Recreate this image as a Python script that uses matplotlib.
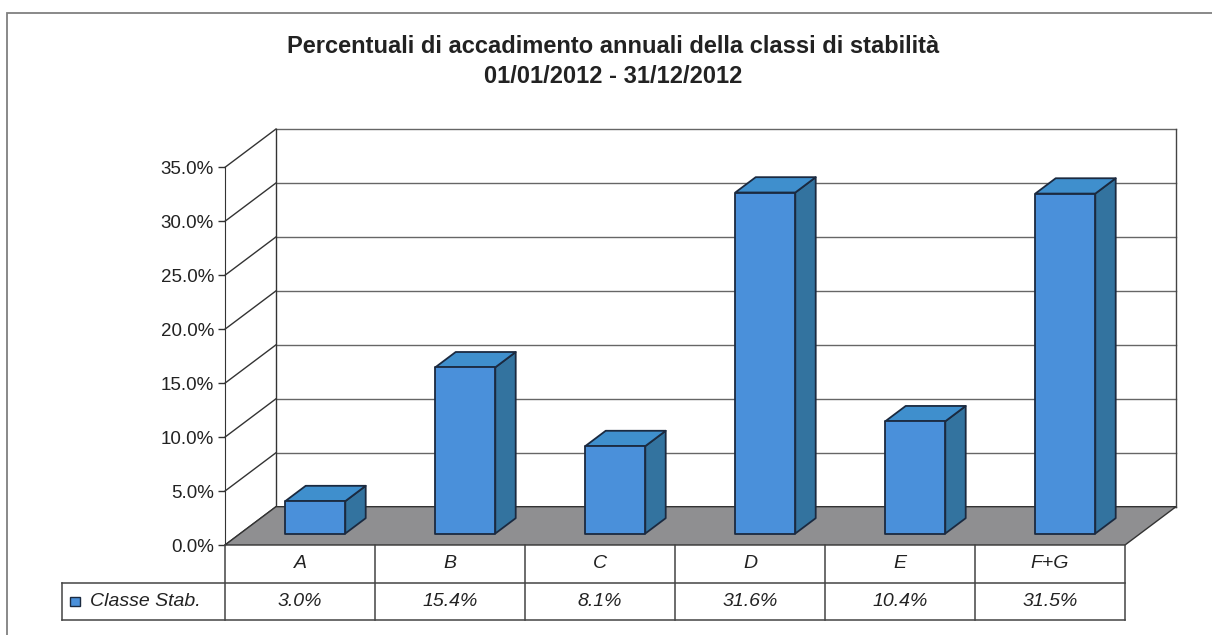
import matplotlib
matplotlib.use('Agg')
import matplotlib.pyplot as plt
from matplotlib.patches import Polygon, Rectangle
from matplotlib.ticker import FuncFormatter

# classi di stabilita' e percentuali annuali
classi = ["A", "B", "C", "D", "E", "F+G"]
percentuali = [3.0, 15.4, 8.1, 31.6, 10.4, 31.5]
etichette = ["3.0%", "15.4%", "8.1%", "31.6%", "10.4%", "31.5%"]
serie = "Classe Stab."
titolo = "Percentuali di accadimento annuali della classi di stabilità\n01/01/2012 - 31/12/2012"
y_ticks = [0, 5, 10, 15, 20, 25, 30, 35]

plt.rcParams['font.family'] = ['Liberation Sans', 'DejaVu Sans']

# profondita' della vista 3D (in unita' dati)
DX = 0.34
DY = 3.55
YMAX = 35
n = len(classi)

FRONT = '#4a90da'
TOP = '#3f8fcd'
SIDE = '#33739f'
EDGE = '#1b2a40'
FLOOR = '#8f8f91'
GRID = '#666666'

fig = plt.figure(figsize=(12.12, 6.35), dpi=100)
ax = fig.add_axes([225 / 1212, 90 / 635, 951 / 1212, 416 / 635])
ax.set_xlim(0, n + DX)
ax.set_ylim(0, YMAX + DY)

# cornice esterna
fig.patches.append(Rectangle((7 / 1212, -0.1), 1.2, 0.1 + (635 - 13) / 635,
                             transform=fig.transFigure, fill=False,
                             edgecolor='#808080', lw=1.3))

fig.text(0.506, 0.903, titolo, ha='center', va='center', fontsize=17,
         fontweight='bold', color='#222222', linespacing=1.35)

# pareti e pavimento
lk = dict(lw=1, zorder=1, clip_on=False)
for v in y_ticks:
    ax.plot([0, DX], [v, v + DY], color='#333333', **lk)
    ax.plot([DX, n + DX], [v + DY, v + DY], color=GRID, **lk)
ax.plot([DX, DX], [DY, YMAX + DY], color='#333333', **lk)
ax.plot([n + DX, n + DX], [DY, YMAX + DY], color='#444444', **lk)

floor = Polygon([(0, 0), (n, 0), (n + DX, DY), (DX, DY)], closed=True,
                facecolor=FLOOR, edgecolor='#333333', lw=1, zorder=2, clip_on=False)
ax.add_patch(floor)

# colonne 3D
f1, f2 = 0.3, 0.7
w = 0.4
for i, v in enumerate(percentuali):
    xl = i + (1 - w) / 2
    xr = xl + w
    ox1, oy1 = f1 * DX, f1 * DY
    ox2, oy2 = f2 * DX, f2 * DY
    front = Polygon([(xl + ox1, oy1), (xr + ox1, oy1), (xr + ox1, oy1 + v), (xl + ox1, oy1 + v)],
                    facecolor=FRONT, edgecolor=EDGE, lw=1.3, zorder=4, joinstyle='round')
    top = Polygon([(xl + ox1, oy1 + v), (xr + ox1, oy1 + v), (xr + ox2, oy2 + v), (xl + ox2, oy2 + v)],
                  facecolor=TOP, edgecolor=EDGE, lw=1.3, zorder=3, joinstyle='round')
    side = Polygon([(xr + ox1, oy1), (xr + ox2, oy2), (xr + ox2, oy2 + v), (xr + ox1, oy1 + v)],
                   facecolor=SIDE, edgecolor=EDGE, lw=1.3, zorder=3, joinstyle='round')
    ax.add_patch(side)
    ax.add_patch(top)
    ax.add_patch(front)

# asse y
for s in ['top', 'right', 'bottom']:
    ax.spines[s].set_visible(False)
ax.spines['left'].set_bounds(0, YMAX)
ax.spines['left'].set_color('#333333')
ax.set_yticks(y_ticks)
ax.yaxis.set_major_formatter(FuncFormatter(lambda v, p: '%.1f%%' % v))
ax.tick_params(axis='y', length=5, width=1, color='#333333', labelsize=13.5,
               labelcolor='#222222', pad=3)
ax.set_xticks([])
ax.patch.set_visible(False)

# tabella dati
r1, r2 = -3.52, -6.94
xleg = -1.087
kw = dict(color='#444444', lw=1.1, clip_on=False, zorder=5)
for i in range(n + 1):
    ax.plot([i, i], [0, r2], **kw)
ax.plot([xleg, n], [r1, r1], **kw)
ax.plot([xleg, n], [r2, r2], **kw)
ax.plot([xleg, xleg], [r1, r2], **kw)
for i, c in enumerate(classi):
    ax.text(i + 0.5, r1 / 2, c, ha='center', va='center', fontsize=14,
            style='italic', color='#222222', clip_on=False)
    ax.text(i + 0.5, (r1 + r2) / 2, etichette[i], ha='center', va='center',
            fontsize=14, style='italic', color='#222222', clip_on=False)

ax.add_patch(Rectangle((xleg + 0.055, (r1 + r2) / 2 - 0.45), 0.062, 0.9,
                       facecolor=FRONT, edgecolor=EDGE, lw=1, clip_on=False, zorder=6))
ax.text(xleg + 0.187, (r1 + r2) / 2, serie, ha='left', va='center', fontsize=14,
        style='italic', color='#222222', clip_on=False)

plt.savefig('out.png', dpi=100)
